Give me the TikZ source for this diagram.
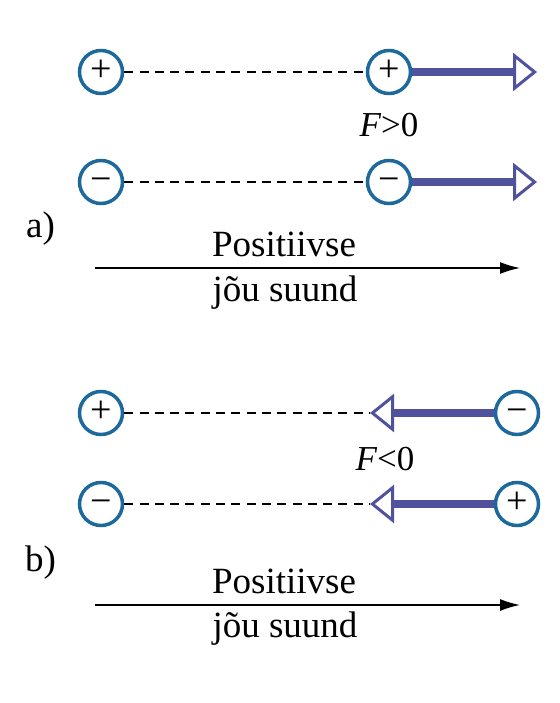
\documentclass[tikz,border=0pt]{standalone}
\usepackage{fontspec}
\usepackage{xcolor}
\usetikzlibrary{arrows.meta}

\setmainfont{Liberation Serif}

\definecolor{chargeblue}{RGB}{30,105,155}
\definecolor{forceblue}{RGB}{80,82,158}

\tikzset{
	charge/.style={shape=circle, draw=chargeblue, fill=white, line width=3.5pt, minimum size=43pt, inner sep=0pt, text height=19.2pt, text depth=0pt, font=\fontsize{38}{38}\selectfont},
	joinline/.style={line width=1.7pt, dash pattern={on 9pt off 6.3pt}},
	force/.style={draw=forceblue, line width=8pt, -{Triangle[open, length=24pt, width=38pt, line width=3pt, fill=white]}},
	axis/.style={line width=1.5pt, -{Latex[length=20pt, width=12pt]}},
	bigtext/.style={inner sep=0pt, font=\fontsize{37}{44}\selectfont},
	forcetext/.style={inner sep=0pt, anchor=base, font=\fontsize{35}{42}\selectfont}
}

\begin{document}
\begin{tikzpicture}[x=1pt, y=-1pt]

	\useasboundingbox (0, 0) rectangle (559, 703);

	% a) like charges pushed to the right:
	\coordinate (tA1) at (537, 72);
	\coordinate (tA2) at (537, 182);
	\draw[force] (389, 72) -- (tA1);
	\draw[force] (389, 182) -- (tA2);
	\node[charge](pA1) at (101, 72){+};
	\node[charge](pA2) at (389, 72){+};
	\node[charge](nA1) at (101, 182){−};
	\node[charge](nA2) at (389, 182){−};
	\draw[joinline] (pA1.east) -- (pA2.west);
	\draw[joinline] (nA1.east) -- (nA2.west);
	\node[forcetext](FA) at (389, 137){\textit{F}>0};
	\node[bigtext, anchor=base west](labA) at (26, 237){a)};
	\coordinate (axA0) at (95, 268);
	\coordinate (axA1) at (520, 268);
	\draw[axis] (axA0) -- (axA1);
	\node[bigtext, anchor=base](posA) at (284, 256){Positiivse};
	\node[bigtext, anchor=base](dirA) at (285, 301){jõu suund};

	% b) unlike charges pulled to the left:
	\coordinate (tB1) at (370, 413);
	\coordinate (tB2) at (370, 504);
	\draw[force] (517, 413) -- (tB1);
	\draw[force] (517, 504) -- (tB2);
	\node[charge](pB1) at (101, 413){+};
	\node[charge](nB2) at (517, 413){−};
	\node[charge](nB1) at (101, 504){−};
	\node[charge](pB2) at (517, 504){+};
	\draw[joinline] (pB1.east) -- (tB1);
	\draw[joinline] (nB1.east) -- (tB2);
	\node[forcetext](FB) at (385, 470){\textit{F}<0};
	\node[bigtext, anchor=base west](labB) at (25, 571){b)};
	\coordinate (axB0) at (95, 605);
	\coordinate (axB1) at (520, 605);
	\draw[axis] (axB0) -- (axB1);
	\node[bigtext, anchor=base](posB) at (284, 593){Positiivse};
	\node[bigtext, anchor=base](dirB) at (285, 637){jõu suund};

\end{tikzpicture}
\end{document}
